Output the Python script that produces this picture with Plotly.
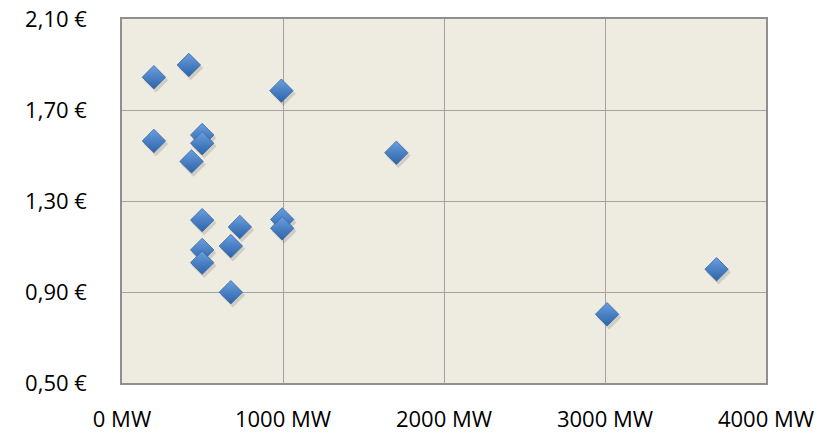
import plotly.graph_objects as go

# Installed capacity (MW) and price per unit (€)
capacity_mw = [198, 415, 990, 198, 498, 498, 432, 498, 732, 995, 995, 676, 498, 498, 676, 1704, 3693, 3013]
price_eur = [1.844, 1.898, 1.785, 1.564, 1.590, 1.554, 1.474, 1.216, 1.186, 1.219, 1.180,
             1.102, 1.085, 1.029, 0.899, 1.512, 1.000, 0.802]

x_tickvals = [0, 1000, 2000, 3000, 4000]
x_ticktext = ["0 MW", "1000 MW", "2000 MW", "3000 MW", "4000 MW"]
y_tickvals = [0.50, 0.90, 1.30, 1.70, 2.10]
y_ticktext = ["0,50 €", "0,90 €", "1,30 €", "1,70 €", "2,10 €"]

X_RANGE = [0, 4000]
Y_RANGE = [0.50, 2.10]

W, H = 836, 434
M = dict(l=122, r=70, t=19, b=51)
plot_w = W - M["l"] - M["r"]
plot_h = H - M["t"] - M["b"]

# soft drop-shadow offset, expressed in data units (about 2 px right, 3 px down)
dx = 2 * (X_RANGE[1] - X_RANGE[0]) / plot_w
dy = 3 * (Y_RANGE[1] - Y_RANGE[0]) / plot_h

fig = go.Figure()
fig.add_trace(go.Scatter(
    x=[v + dx for v in capacity_mw],
    y=[v - dy for v in price_eur],
    mode="markers",
    marker=dict(symbol="diamond", size=19, color="rgba(70,70,70,0.18)",
                line=dict(width=0)),
    hoverinfo="skip",
    showlegend=False,
))
fig.add_trace(go.Scatter(
    x=capacity_mw,
    y=price_eur,
    mode="markers",
    marker=dict(symbol="diamond", size=18, color="#6aa0e0",
                gradient=dict(type="vertical", color="#2d63a8"),
                line=dict(width=0.8, color="#3566a6")),
    showlegend=False,
))

font = dict(family="Open Sans, Lato, sans-serif", size=22, color="#000000")

fig.update_layout(
    width=W, height=H,
    margin=M,
    paper_bgcolor="#ffffff",
    plot_bgcolor="#eeebe1",
    font=font,
    xaxis=dict(range=X_RANGE, tickvals=x_tickvals, ticktext=x_ticktext,
               showgrid=True, gridcolor="#a3a3a3", gridwidth=1,
               showline=True, linecolor="#8f8f8f", linewidth=1.5, mirror=True,
               zeroline=False, ticks="", ticklabelstandoff=16, tickfont=font,
               automargin=False),
    yaxis=dict(range=Y_RANGE, tickvals=y_tickvals, ticktext=y_ticktext,
               showgrid=True, gridcolor="#a3a3a3", gridwidth=1,
               showline=True, linecolor="#8f8f8f", linewidth=1.5, mirror=True,
               zeroline=False, ticks="", ticklabelstandoff=29, tickfont=font,
               automargin=False),
)

fig.write_html("out.html")
